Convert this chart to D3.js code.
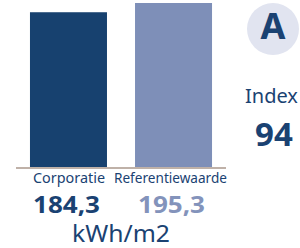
<!DOCTYPE html>
<html>
<head>
<meta charset="utf-8">
<script src="https://cdn.jsdelivr.net/npm/d3@7"></script>
<style>
  html, body { margin: 0; padding: 0; background: #fff; }
  svg { display: block; font-family: "Noto Sans", sans-serif; }
</style>
</head>
<body>
<div id="chart"></div>
<script>
const categories = ["Corporatie", "Referentiewaarde"];
const values = [184.3, 195.3];
const valueLabels = ["184,3", "195,3"];
const unit = "kWh/m2";
const label = "A";
const indexLabel = "Index";
const indexValue = "94";

const width = 300, height = 248;
const dark = "#1a4272";
const colors = ["#17416f", "#7e8fb8"];
const valueColors = ["#1a4272", "#8393bb"];

const svg = d3.select("#chart").append("svg")
  .attr("width", width).attr("height", height);

const x = d3.scaleBand().domain(categories).range([16, 226])
  .paddingInner(0.267).paddingOuter(0.133);
const y = d3.scaleLinear().domain([0, d3.max(values)]).range([167, 3]);

svg.selectAll("rect.bar").data(categories).enter().append("rect")
  .attr("class", "bar")
  .attr("x", d => x(d))
  .attr("width", x.bandwidth())
  .attr("y", (d, i) => y(values[i]))
  .attr("height", (d, i) => y(0) - y(values[i]))
  .attr("fill", (d, i) => colors[i]);

// baseline
svg.append("line")
  .attr("x1", 16).attr("x2", 226)
  .attr("y1", y(0) + 1).attr("y2", y(0) + 1)
  .attr("stroke", "#bfb1a8").attr("stroke-width", 2);

// category labels
const catX = [69, 170.5];
const catWidths = [72, 113];
svg.selectAll("text.cat").data(categories).enter().append("text")
  .attr("class", "cat")
  .attr("x", (d, i) => catX[i])
  .attr("y", 183)
  .attr("text-anchor", "middle")
  .attr("font-size", 15)
  .attr("fill", dark)
  .attr("textLength", (d, i) => catWidths[i])
  .attr("lengthAdjust", "spacingAndGlyphs")
  .text(d => d);

// value labels
const valX = [66.5, 171.5];
svg.selectAll("text.val").data(valueLabels).enter().append("text")
  .attr("class", "val")
  .attr("x", (d, i) => valX[i])
  .attr("y", 213)
  .attr("text-anchor", "middle")
  .attr("font-size", 24)
  .attr("font-weight", "bold")
  .attr("fill", (d, i) => valueColors[i])
  .attr("textLength", 67)
  .attr("lengthAdjust", "spacingAndGlyphs")
  .text(d => d);

svg.append("text")
  .attr("x", 121).attr("y", 242)
  .attr("text-anchor", "middle")
  .attr("font-size", 23)
  .attr("fill", dark)
  .attr("textLength", 98)
  .attr("lengthAdjust", "spacingAndGlyphs")
  .text(unit);

// label circle
svg.append("circle")
  .attr("cx", 273).attr("cy", 29).attr("r", 26)
  .attr("fill", "#e1e4f0");
svg.append("text")
  .attr("x", 273).attr("y", 39)
  .attr("text-anchor", "middle")
  .attr("font-size", 36)
  .attr("font-weight", "bold")
  .attr("fill", dark)
  .text(label);

svg.append("text")
  .attr("x", 245).attr("y", 103)
  .attr("font-size", 20)
  .attr("fill", dark)
  .text(indexLabel);
svg.append("text")
  .attr("x", 255).attr("y", 146)
  .attr("font-size", 33)
  .attr("font-weight", "bold")
  .attr("fill", dark)
  .text(indexValue);
</script>
</body>
</html>
